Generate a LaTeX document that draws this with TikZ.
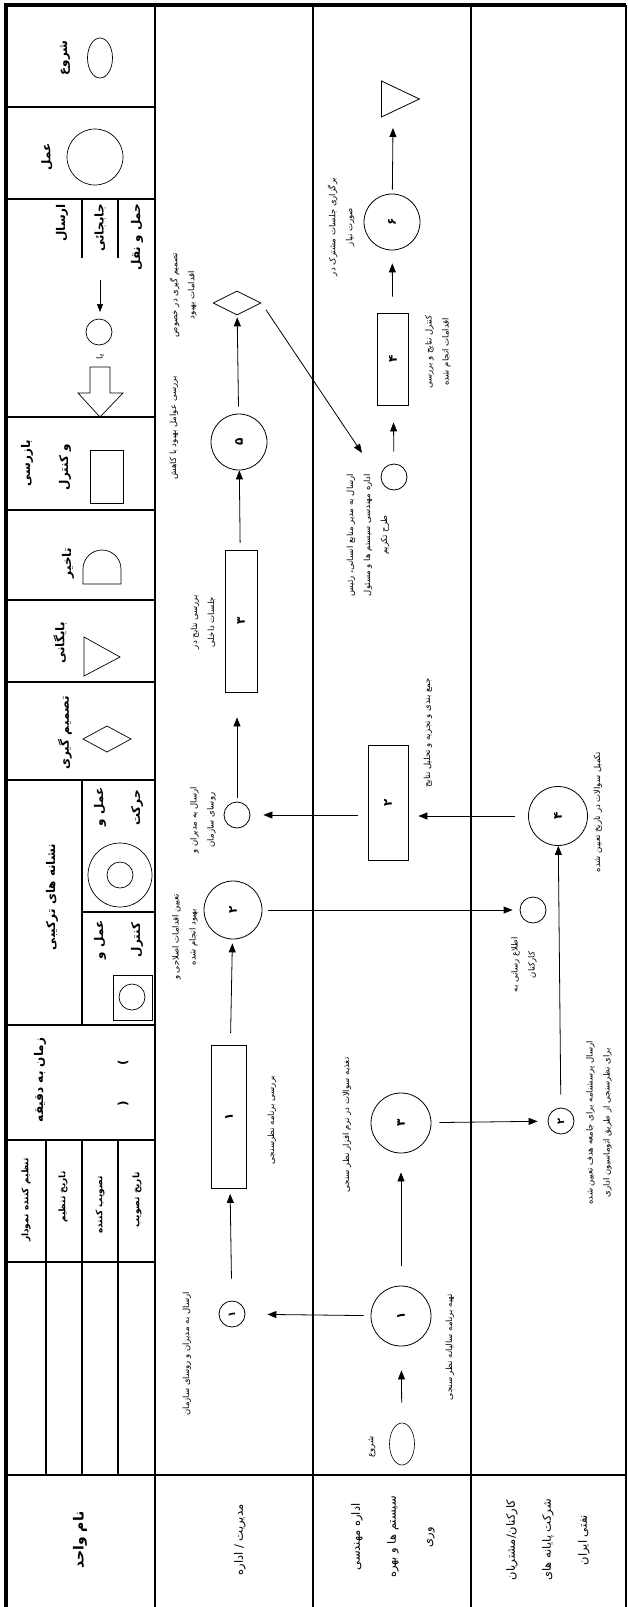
\documentclass[tikz,border=0pt]{standalone}
\usepackage{fontspec}
\setmainfont{DejaVu Sans}
\newfontfamily\fa[Script=Arabic]{DejaVu Sans}
\TeXXeTstate=1
\usetikzlibrary{arrows.meta,shapes.geometric}
\newcommand{\rl}[1]{\beginR #1\endR}
\tikzset{
  lbl/.style={rotate=90,align=center,inner sep=0pt,font=\fa\fontsize{8.5}{17}\selectfont},
  hdr/.style={rotate=90,align=center,inner sep=0pt,font=\fa\bfseries\fontsize{12}{14}\selectfont},
  unitname/.style={rotate=90,align=center,inner sep=0pt,font=\fa\fontsize{11.5}{36}\selectfont},
  opc/.style={circle,draw,line width=0.8pt,minimum size=#1,inner sep=0pt,rotate=90,
    font=\fa\bfseries\fontsize{12}{12}\selectfont},
  opc/.default=58pt,
  sendc/.style={circle,draw,line width=0.8pt,minimum size=26pt,inner sep=0pt,rotate=90,
    font=\fa\bfseries\fontsize{10}{10}\selectfont},
  inspbox/.style={rectangle,draw,line width=0.8pt,inner sep=0pt,rotate=90,
    font=\fa\bfseries\fontsize{12}{12}\selectfont},
  decn/.style={diamond,draw,line width=0.8pt,minimum width=48pt,minimum height=24pt,inner sep=0pt},
  store/.style={isosceles triangle,isosceles triangle stretches,draw,line width=0.8pt,
    minimum width=36pt,minimum height=38pt,inner sep=0pt},
  startc/.style={ellipse,draw,line width=0.6pt,minimum width=25pt,minimum height=42pt,inner sep=0pt},
  arr/.style={-{Triangle[length=9pt,width=7pt]},line width=0.8pt},
  laneln/.style={line width=2.4pt},
  cellln/.style={line width=2pt},
  tblln/.style={line width=1.5pt},
  sym/.style={line width=0.7pt},
}
\begin{document}
\begin{tikzpicture}[x=1pt,y=-1pt]
  \useasboundingbox (0,0) rectangle (628,1607);
  % frame and lanes
  \draw[line width=4.5pt] (6,1607) -- (6,5) -- (626,5);
  \draw[line width=1.2pt] (626,5) -- (626,1607);
  \draw[laneln] (155,5) -- (155,1607);
  \draw[laneln] (313,5) -- (313,1607);
  \draw[laneln] (471,5) -- (471,1607);
  \draw[laneln] (6,1475) -- (626,1475);
  % legend cells
  \foreach \yy in {107,199,417,510,600,682,780,1025,1140}
    \draw[cellln] (6,\yy) -- (155,\yy);
  \draw[cellln] (82,199) -- (82,258);
  \draw[cellln] (118,199) -- (118,258);
  \draw[cellln] (82,780) -- (82,1025);
  \draw[cellln] (82,912) -- (155,912);
  \draw[cellln] (6,1262) -- (155,1262);
  \foreach \xx in {46,82,118}
    \draw[tblln] (\xx,1140) -- (\xx,1475);

  % legend symbols
  \draw[sym] (100,58) ellipse[x radius=12.5pt,y radius=20pt];
  \draw[sym] (95,157) circle[radius=28pt];
  \draw[-{Triangle[length=8pt,width=6pt]},line width=0.7pt] (100,280) -- (100,312);
  \draw[sym] (99,332) circle[radius=13pt];
  \draw[sym] (90,367) -- (110,367) -- (110,393) -- (123,393) -- (100,417)
    -- (78,393) -- (90,393) -- cycle;
  \draw[sym] (90,450) rectangle (123,503);
  \draw[sym] (83,584) -- (83,569) arc[start angle=180,end angle=0,radius=19pt] -- (121,584) -- cycle;
  \draw[sym] (84,637) -- (120,657) -- (84,676) -- cycle;
  \draw[sym] (83,739) -- (107,726) -- (131,739) -- (107,752) -- cycle;
  \draw[sym] (120,875) circle[radius=32pt];
  \draw[sym] (120,875) circle[radius=13pt];
  \draw[sym] (113,975) rectangle (152,1020);
  \draw[sym] (132,997) circle[radius=13pt];

  % legend texts
  \node[hdr] (tstart) at (65,58) {\rl{شروع}};
  \node[hdr] (toper) at (47,157) {\rl{عمل}};
  \node[hdr] (tsend) at (62,223) {\rl{ارسال}};
  \node[hdr] (tmove) at (100,228) {\rl{جابجائی}};
  \node[hdr] (ttrans) at (137,237) {\rl{حمل و نقل}};
  \node[lbl] (tor) at (100,357) {\rl{یا}};
  \node[hdr] (tinsp) at (27,463) {\rl{بازرسی}};
  \node[hdr] (tctrl) at (65,467) {\rl{و کنترل}};
  \node[hdr] (tdelay) at (68,563) {\rl{تاخیر}};
  \node[hdr] (tarch) at (60,643) {\rl{بایگانی}};
  \node[hdr] (tdec) at (65,733) {\rl{تصمیم گیری}};
  \node[hdr] (tcomb) at (52,897) {\rl{نشانه های ترکیبی}};
  \node[hdr] (topm1) at (100,807) {\rl{عمل و}};
  \node[hdr] (topm2) at (137,808) {\rl{حرکت}};
  \node[hdr] (topc1) at (100,940) {\rl{عمل و}};
  \node[hdr] (topc2) at (137,940) {\rl{کنترل}};
  \node[hdr] (ttime) at (40,1080) {\rl{زمان به دقیقه}};
  \node[hdr] (tpar) at (123,1083) {(\hspace{36pt})};
  \node[hdr,font=\fa\bfseries\fontsize{9}{10}\selectfont] (tb1) at (26,1200) {\rl{تنظیم کننده نمودار}};
  \node[hdr,font=\fa\bfseries\fontsize{9}{10}\selectfont] (tb2) at (63,1197) {\rl{تاریخ تنظیم}};
  \node[hdr,font=\fa\bfseries\fontsize{9}{10}\selectfont] (tb3) at (100,1205) {\rl{تصویب کننده}};
  \node[hdr,font=\fa\bfseries\fontsize{9}{10}\selectfont] (tb4) at (137,1200) {\rl{تاریخ تصویب}};
  \node[hdr,font=\fa\bfseries\fontsize{14}{16}\selectfont] (tunit) at (80,1540) {\rl{نام واحد}};

  % unit names
  \node[unitname] (u1) at (240,1540) {\rl{مدیریت / اداره}};
  \node[unitname] (u2) at (393,1537) {\rl{اداره مهندسی}\\\rl{سیستم ها و بهره}\\\rl{وری}};
  \node[unitname] (u3) at (548,1540) {\rl{کارکنان/مشتریان}\\\rl{شرکت پایانه های}\\\rl{نفتی ایران}};

  % lane 1
  \node[decn] (dm) at (237,303) {};
  \node[opc=56pt] (c5) at (239,442) {۵};
  \node[inspbox,minimum width=142pt,minimum height=32pt] (r3) at (241,621) {۳};
  \node[sendc] (snd) at (237,815) {};
  \node[opc=58pt] (c2) at (233,910) {۲};
  \node[inspbox,minimum width=143pt,minimum height=35pt] (r1) at (229,1117) {۱};
  \node[sendc] (s1) at (232,1314) {۱};
  % lane 2
  \node[store,anchor=lower side] (arch) at (381,99) {};
  \node[opc=56pt] (c6) at (392,222) {۶};
  \node[inspbox,minimum width=92pt,minimum height=31pt] (r4) at (393,359) {۴};
  \node[sendc] (s6) at (394,477) {};
  \node[inspbox,minimum width=115pt,minimum height=40pt] (r2) at (388,803) {۲};
  \node[opc=60pt] (c3) at (401,1123) {۳};
  \node[opc=60pt] (c1) at (401,1316) {۱};
  \node[startc] (st) at (402,1444) {};
  % lane 3
  \node[opc=59pt] (c4) at (558,816) {۴};
  \node[sendc] (inf) at (533,910) {};
  \node[sendc] (s2) at (561,1121) {۲};

  % step labels
  \node[lbl] (ldm) at (183,295) {\rl{تصمیم گیری در خصوص}\\\rl{اقدامات بهبود}};
  \node[lbl] (lc5) at (174,428) {\rl{بررسی عوامل بهبود با کاهش}};
  \node[lbl] (lr3) at (203,622) {\rl{بررسی نتایج در}\\\rl{جلسات داخلی}};
  \node[lbl] (lsnd) at (203,820) {\rl{ارسال به مدیران و}\\\rl{روسای سازمان}};
  \node[lbl] (lc2) at (185,937) {\rl{تعیین اقدامات اصلاحی و}\\\rl{بهبود انجام شده}};
  \node[lbl] (lr1) at (272,1120) {\rl{بررسی برنامه نظرسنجی}};
  \node[lbl] (ls1) at (187,1354) {\rl{ارسال به مدیران و روسای سازمان}};
  \node[lbl] (lc6) at (341,227) {\rl{برگزاری جلسات مشترک در}\\\rl{صورت نیاز}};
  \node[lbl] (lr4) at (438,352) {\rl{کنترل نتایج و بررسی}\\\rl{اقدامات انجام شده}};
  \node[lbl] (ls6) at (368,535) {\rl{ارسال به مدیر منابع انسانی، رئیس}\\\rl{اداره مهندسی سیستم ها و مسئول}\\\rl{طرح تکریم}};
  \node[lbl] (lr2) at (428,733) {\rl{جمع بندی و تجزیه و تحلیل نتایج}};
  \node[lbl] (lc3) at (347,1125) {\rl{تغذیه سوالات در نرم افزار نظر سنجی}};
  \node[lbl] (lc1) at (450,1347) {\rl{تهیه برنامه سالیانه نظر سنجی}};
  \node[lbl] (lst) at (372,1447) {\rl{شروع}};
  \node[lbl] (lc4) at (598,812) {\rl{تکمیل سوالات در تاریخ تعیین شده}};
  \node[lbl] (linf) at (524,965) {\rl{اطلاع رسانی به}\\\rl{کارکنان}};
  \node[lbl] (ls2) at (599,1123) {\rl{ارسال پرسشنامه برای جامعه هدف تعیین شده}\\\rl{برای نظرسنجی از طریق اتوماسیون اداری}};

  % flow
  \coordinate (dtip) at (362,453);
  \coordinate (archin) at (393,128);
  \draw[arr,shorten <=20pt,shorten >=24pt] (st) -- (c1);
  \draw[arr,shorten <=20pt,shorten >=19pt] (c1) -- (c3);
  \draw[arr,shorten <=7pt,shorten >=22pt] (c1) -- (s1);
  \draw[arr,shorten <=22pt,shorten >=5pt] (s1) -- (r1);
  \draw[arr,shorten <=12pt,shorten >=4pt] (r1) -- (c2);
  \draw[arr,shorten <=6pt,shorten >=7pt] (c2) -- (inf);
  \draw[arr,shorten <=8pt,shorten >=10pt] (c3) -- (s2);
  \draw[arr,shorten <=13pt] (s2) -- (c4);
  \draw[arr,shorten <=13pt,shorten >=10pt] (c4) -- (r2.south |- c4);
  \draw[arr,shorten <=10pt,shorten >=13pt] (r2.north |- snd) -- (snd);
  \draw[arr,shorten <=4pt,shorten >=25pt] (snd) -- (snd |- r3.west);
  \draw[arr,shorten <=7pt] (r3) -- (c5);
  \draw[arr,shorten <=7pt,shorten >=2pt] (c5) -- (dm);
  \draw[arr,shorten <=8pt] (dm.east) -- (dtip);
  \draw[arr,shorten <=12pt,shorten >=17pt] (s6) -- (r4);
  \draw[arr,shorten <=16pt,shorten >=13pt] (r4) -- (c6);
  \draw[arr,shorten <=4pt] (c6) -- (archin);
\end{tikzpicture}
\end{document}
